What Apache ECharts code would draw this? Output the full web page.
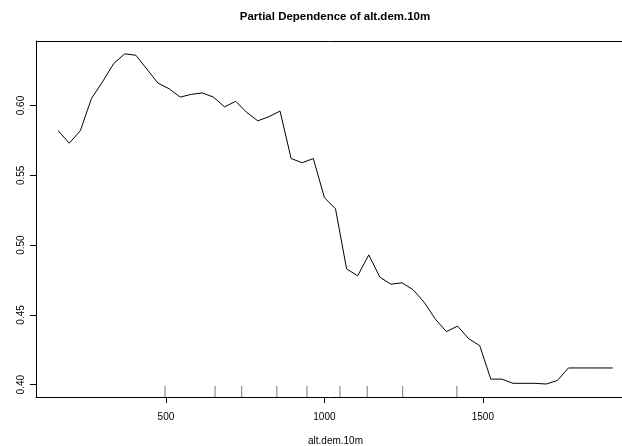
<!DOCTYPE html>
<html>
<head>
<meta charset="utf-8">
<script src="https://cdn.jsdelivr.net/npm/echarts@6/dist/echarts.min.js"></script>
<style>
html,body{margin:0;padding:0;background:#fff;}
#chart{width:622px;height:446px;}
</style>
</head>
<body>
<div id="chart"></div>
<script>
// Data
const altitude = [160,195,230,265,300,335,370,405,440,475,510,545,580,615,650,685,720,755,790,825,860,895,930,965,1000,1035,1070,1105,1140,1175,1210,1245,1280,1315,1350,1385,1420,1455,1490,1525,1560,1595,1630,1665,1700,1735,1770,1805,1840,1875,1910];
const partialDep = [0.582,0.573,0.582,0.605,0.617,0.630,0.637,0.636,0.626,0.616,0.612,0.606,0.608,0.609,0.606,0.599,0.603,0.595,0.589,0.592,0.596,0.562,0.559,0.562,0.534,0.526,0.483,0.478,0.493,0.477,0.472,0.473,0.468,0.459,0.447,0.438,0.442,0.433,0.428,0.404,0.404,0.401,0.401,0.401,0.4005,0.403,0.412,0.412,0.412,0.412,0.412];
const rugDeciles = [497,655,739,850,945,1049,1135,1247,1418];
const xTicks = [500,1000,1500];
const yTicks = [0.40,0.45,0.50,0.55,0.60];
const titleText = 'Partial Dependence of alt.dem.10m';
const xName = 'alt.dem.10m';

const font = "'Liberation Sans', Arial, Helvetica, sans-serif";
const xMin = 90, xMax = 1980, yMin = 0.3912, yMax = 0.6462;
const chart = echarts.init(document.getElementById('chart'), null, {renderer:'canvas'});
chart.setOption({
  animation: false,
  backgroundColor: '#fff',
  graphic: [{
    type: 'text', x: 335, y: 17,
    style: {text: titleText, font: 'bold 11.5px ' + font, fill: '#000', textAlign: 'center', textVerticalAlign: 'middle'}
  }],
  grid: {left: 36, right: -13, top: 41, bottom: 49, show: false, outerBoundsMode: 'none'},
  xAxis: {
    type: 'value', min: xMin, max: xMax,
    name: xName, nameLocation: 'middle', nameGap: 39,
    nameTextStyle: {fontFamily: font, fontSize: 10, color: '#000'},
    axisLine: {show: true, lineStyle: {color: '#000', width: 1}},
    axisTick: {show: true, customValues: xTicks, length: 6, lineStyle: {color: '#000'}},
    axisLabel: {show: true, customValues: xTicks, margin: 15, fontFamily: font, fontSize: 10, color: '#000',
      formatter: v => String(Math.round(v))},
    splitLine: {show: false}
  },
  yAxis: {
    type: 'value', min: yMin, max: yMax,
    axisLine: {show: true, lineStyle: {color: '#000', width: 1}},
    axisTick: {show: true, customValues: yTicks, length: 6, lineStyle: {color: '#000'}},
    axisLabel: {show: true, customValues: yTicks, rotate: 90, margin: 10, fontFamily: font, fontSize: 10, color: '#000',
      formatter: v => Number(v).toFixed(2)},
    splitLine: {show: false}
  },
  series: [{
    type: 'line',
    data: altitude.map((x, i) => [x, partialDep[i]]),
    showSymbol: false, symbol: 'none', clip: false,
    lineStyle: {color: '#000', width: 1}
  }, {
    type: 'line', clip: false, silent: true,
    data: [],
    markLine: {
      silent: true, symbol: ['none', 'none'], label: {show: false},
      lineStyle: {color: '#000', width: 1, type: 'solid', opacity: 1},
      emphasis: {disabled: true},
      data: [[{coord: [xMin, yMax]}, {coord: [xMax, yMax]}]]
    }
  }, {
    type: 'scatter',
    data: rugDeciles.map(v => [v, yMin]),
    symbol: 'rect', symbolSize: [1, 11], symbolOffset: [0, -5.5],
    itemStyle: {color: '#555'}, silent: true, clip: false
  }]
});
</script>
</body>
</html>
